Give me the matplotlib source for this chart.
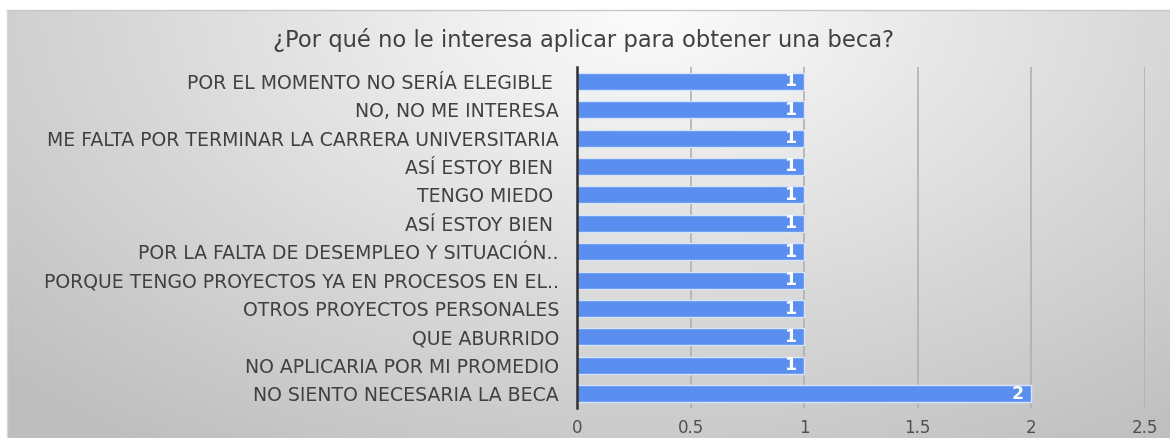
import matplotlib.pyplot as plt
import numpy as np

categorias = [
    "POR EL MOMENTO NO SERÍA ELEGIBLE ",
    "NO, NO ME INTERESA",
    "ME FALTA POR TERMINAR LA CARRERA UNIVERSITARIA",
    "ASÍ ESTOY BIEN ",
    "TENGO MIEDO ",
    "ASÍ ESTOY BIEN ",
    "POR LA FALTA DE DESEMPLEO Y SITUACIÓN..",
    "PORQUE TENGO PROYECTOS YA EN PROCESOS EN EL..",
    "OTROS PROYECTOS PERSONALES",
    "QUE ABURRIDO",
    "NO APLICARIA POR MI PROMEDIO",
    "NO SIENTO NECESARIA LA BECA",
]
valores = [1, 1, 1, 1, 1, 1, 1, 1, 1, 1, 1, 2]
xticks = [0, 0.5, 1, 1.5, 2, 2.5]
xtick_labels = ["0", "0.5", "1", "1.5", "2", "2.5"]

plt.rcParams['font.family'] = ['DejaVu Sans']

fig = plt.figure(figsize=(11.7, 4.38), dpi=100)
fig.patch.set_facecolor('white')

# fondo degradado radial
W, H = 1170, 438
bg = fig.add_axes([7 / W, 0, 1 - 7 / W, (H - 10) / H], zorder=0)
xx, yy = np.meshgrid(np.arange(W - 7), np.arange(H - 10))
d = np.sqrt(((xx - 640) / 720.0) ** 2 + (yy / 430.0) ** 2)
g = np.clip(252 - 50 * d, 190, 252) / 255.0
bg.imshow(np.dstack([g, g, g]), aspect='auto', interpolation='bilinear')
bg.set_axis_off()
fig.add_artist(plt.Line2D([7 / W, 1], [(H - 10) / H, (H - 10) / H], color='#c8c8c8', lw=1))
fig.add_artist(plt.Line2D([7 / W, 7 / W], [0, (H - 10) / H], color='#d8d8d8', lw=1))

ax = fig.add_axes([577 / W, 30 / H, (1145 - 577) / W, (371 - 30) / H], zorder=1)
ax.patch.set_alpha(0)

y = np.arange(len(categorias))
barras = ax.barh(y, valores, height=0.6, color='#5a8ff0', edgecolor='#d6e4fb',
                 linewidth=1, zorder=2)
for b, v in zip(barras, valores):
    ax.text(b.get_width() - 0.035, b.get_y() + b.get_height() / 2, str(v),
            ha='right', va='center', color='white', fontsize=12.5, fontweight='bold', zorder=3)

ax.set_yticks(y)
ax.set_yticklabels(categorias, fontsize=13.6, color='#404040')
ax.set_ylim(len(categorias) - 0.5, -0.5)
ax.set_xlim(0, 2.5)
ax.set_xticks(xticks)
ax.set_xticklabels(xtick_labels, fontsize=12, color='#505050')
ax.tick_params(axis='y', length=0, pad=13)
ax.tick_params(axis='x', length=0, pad=8)
ax.grid(axis='x', color='#b0b0b0', linewidth=1.2, zorder=1)
ax.set_axisbelow(True)
for s in ['top', 'right', 'bottom']:
    ax.spines[s].set_visible(False)
ax.spines['left'].set_color('#303030')
ax.spines['left'].set_linewidth(1.8)

fig.text(584 / W, (H - 40) / H, "¿Por qué no le interesa aplicar para obtener una beca?",
         ha='center', va='center', fontsize=16.3, color='#404040')

fig.savefig('out.png', dpi=100)
